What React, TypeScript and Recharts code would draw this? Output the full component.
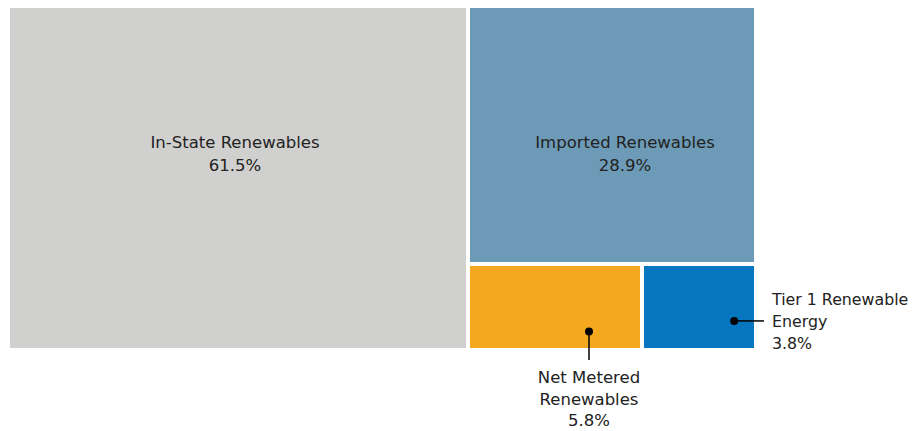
import React from "react";
import { Treemap } from "recharts";

const categories: string[] = [
  "In-State Renewables",
  "Imported Renewables",
  "Net Metered Renewables",
  "Tier 1 Renewable Energy",
];
const shares: number[] = [61.5, 28.9, 5.8, 3.8];
const colors: string[] = ["#d0d0ce", "#6d9ab6", "#f4a81f", "#0676c0"];

const chartData = categories.map((name, i) => ({ name, size: shares[i] }));

const GAP = 4;
const FONT = "'DejaVu Sans', sans-serif";
const FS = 16.5;
const TEXT = "#222";

const CellContent = (props: any) => {
  const { x, y, width, height, depth, index, name, value } = props;
  if (depth !== 1) return <g />;
  const w = width - GAP;
  const h = height - GAP;
  const pct = `${Number(value).toFixed(1)}%`;
  const fill = colors[index % colors.length];

  let label: React.ReactNode = null;
  if (index === 0 || index === 1) {
    const cx = x + w / 2 + (index === 1 ? 13 : -3);
    label = (
      <text x={cx} y={y + 134} textAnchor="middle" fontFamily={FONT} fontSize={FS} fill={TEXT} dominantBaseline="central">
        <tspan x={cx} dy={0}>{name}</tspan>
        <tspan x={cx} dy={23}>{pct}</tspan>
      </text>
    );
  } else if (index === 2) {
    // callout below the cell
    const dx = x + w * 0.7;
    const dy = y + h * 0.8;
    const bottom = y + h;
    const words = name.split(" ");
    label = (
      <g>
        <circle cx={dx} cy={dy} r={4} fill="#000" />
        <line x1={dx} y1={dy} x2={dx} y2={bottom + 12} stroke="#000" strokeWidth={1.5} />
        <text x={dx} y={bottom + 29} textAnchor="middle" fontFamily={FONT} fontSize={FS} fill={TEXT} dominantBaseline="central">
          <tspan x={dx} dy={0}>{words.slice(0, 2).join(" ")}</tspan>
          <tspan x={dx} dy={21.5}>{words.slice(2).join(" ")}</tspan>
          <tspan x={dx} dy={21.5}>{pct}</tspan>
        </text>
      </g>
    );
  } else {
    // callout to the right of the cell
    const dx = x + w * 0.82;
    const dy = y + h * 0.67;
    const right = x + w;
    const words = name.split(" ");
    label = (
      <g>
        <circle cx={dx} cy={dy} r={4} fill="#000" />
        <line x1={dx} y1={dy} x2={right + 10} y2={dy} stroke="#000" strokeWidth={1.5} />
        <text x={right + 18} y={dy - 22} textAnchor="start" fontFamily={FONT} fontSize={15.8} fill={TEXT} dominantBaseline="central">
          <tspan x={right + 18} dy={0}>{words.slice(0, 3).join(" ")}</tspan>
          <tspan x={right + 18} dy={22}>{words.slice(3).join(" ")}</tspan>
          <tspan x={right + 18} dy={22}>{pct}</tspan>
        </text>
      </g>
    );
  }

  return (
    <g>
      <rect x={x} y={y} width={w} height={h} fill={fill} stroke="none" />
      {label}
    </g>
  );
};

export default function App() {
  return (
    <div style={{ marginLeft: 2, width: 900, height: 423, background: "#fff" }}>
      <style>{`body { overflow: hidden; } .recharts-wrapper, .recharts-surface { overflow: visible !important; }`}</style>
      <Treemap
        width={748}
        height={344}
        data={chartData}
        dataKey="size"
        nameKey="name"
        isAnimationActive={false}
        content={<CellContent />}
      />
    </div>
  );
}
